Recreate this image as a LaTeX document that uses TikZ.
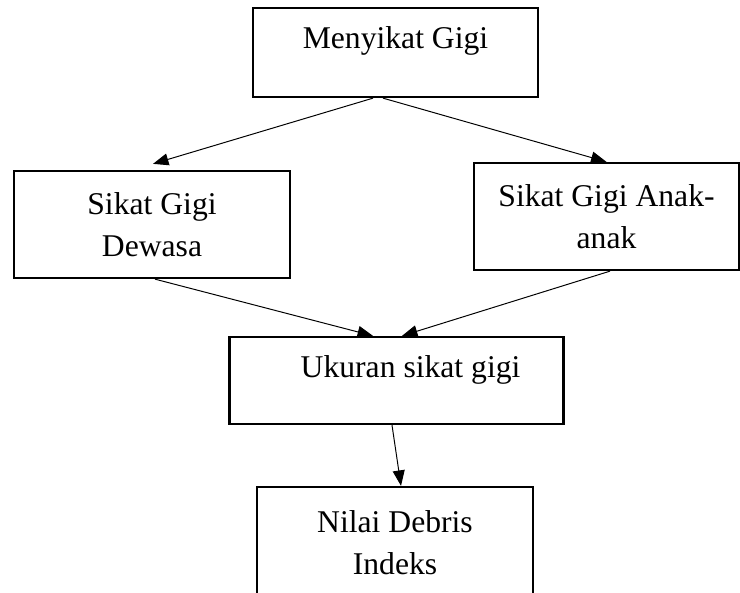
\documentclass[tikz,border=0pt]{standalone}
\usepackage{fontspec}
\setmainfont{Liberation Serif}
\usetikzlibrary{arrows.meta,calc}
\begin{document}
\begin{tikzpicture}[x=0.025cm, y=-0.025cm, >={Triangle[length=11pt,width=8.5pt]},
    kotak/.style={draw, line width=1.6pt, inner sep=0pt, font=\fontsize{22.5}{30}\selectfont},
    dua/.style={kotak, align=center, minimum height=26.75mm},
    panah/.style={->, line width=0.7pt}]
\path[use as bounding box, clip](0,0) rectangle (740,592);
\node[kotak, minimum width=71.25mm, text height=10.25mm, text depth=12mm](gigi) at (395.5,52.5){Menyikat Gigi};
\node[dua, minimum width=69mm](dewasa) at (152,224.5){Sikat Gigi\\Dewasa};
\node[dua, minimum width=66.25mm](anak) at (606.5,216.5){Sikat Gigi Anak-\\anak};
\node[kotak, minimum width=83.5mm, text height=10mm, text depth=11.75mm](ukuran) at (396.5,380.5){\hspace*{20pt}Ukuran sikat gigi};
\node[dua, minimum width=69mm, minimum height=28mm](debris) at (395,543){Nilai Debris\\Indeks};

\draw[panah]($(gigi.south)+(-22.5,0)$)--($(dewasa.north)+(1,-6)$);
\draw[panah]($(gigi.south)+(-12.5,0)$)--(anak.north);
\draw[panah]($(dewasa.south)+(3,0)$)--($(ukuran.north)+(-23.5,0)$);
\draw[panah]($(anak.south)+(3.5,0)$)--($(ukuran.north)+(5.5,0)$);
\draw[panah]($(ukuran.south)+(-4.5,0)$)--($(debris.north)+(6,0)$);
\end{tikzpicture}
\end{document}
